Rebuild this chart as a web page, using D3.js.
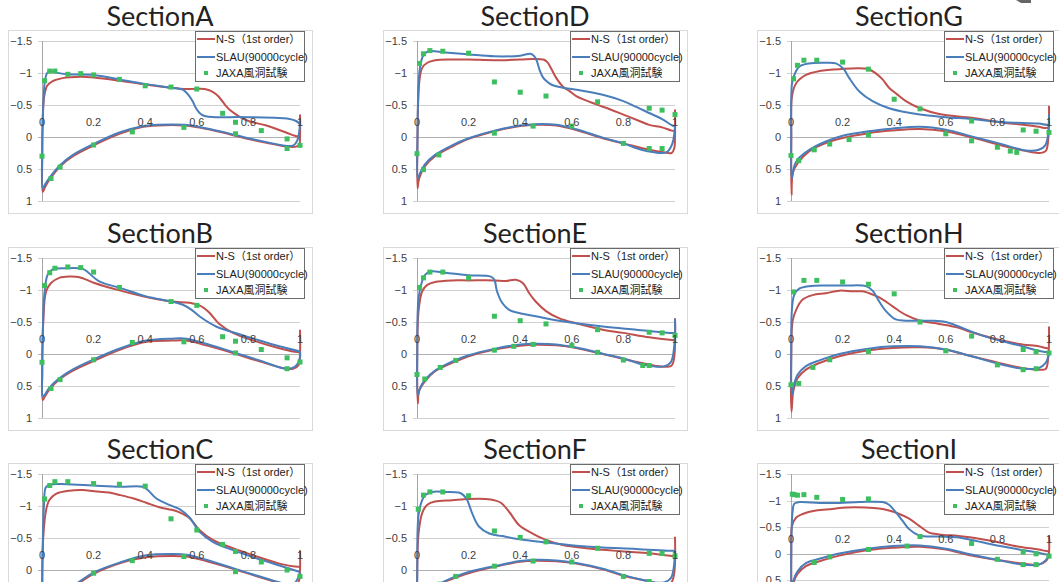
<!DOCTYPE html>
<html>
<head>
<meta charset="utf-8">
<script src="https://cdn.jsdelivr.net/npm/d3@7"></script>
<style>
  html, body { margin: 0; padding: 0; background: #fff; overflow: hidden; }
  svg { display: block; }
</style>
</head>
<body>
<svg id="chart" width="1059" height="582"></svg>
<script>
// ---- chart data: chordwise position x/c and pressure coefficient Cp ----
const sectionNames = ["A", "B", "C", "D", "E", "F", "G", "H", "I"];
const xTicks = [0, 0.2, 0.4, 0.6, 0.8, 1];
const yTicks = [-1.5, -1, -0.5, 0, 0.5, 1];
const seriesNames = ["N-S\uFF081st order\uFF09", "SLAU(90000cycle)", "JAXA風洞試験"];

// Each CFD curve runs from the trailing edge along the upper surface to the
// leading edge, then back along the lower surface to the trailing edge.
const nsA = [[1.0,-0.02],[0.99,-0.01],[0.946,-0.07],[0.87,-0.18],[0.8,-0.25],[0.765,-0.32],[0.726,-0.43],[0.71,-0.5],[0.685,-0.63],[0.66,-0.71],[0.63,-0.75],[0.58,-0.75],[0.55,-0.75],[0.5,-0.77],[0.4,-0.82],[0.3,-0.88],[0.2,-0.93],[0.15,-0.94],[0.08,-0.92],[0.04,-0.87],[0.02,-0.8],[0.008,-0.62],[0.003,-0.3],[0.001,0.3],[0.003,0.86],[0.012,0.78],[0.03,0.66],[0.07,0.46],[0.12,0.3],[0.2,0.13],[0.3,-0.05],[0.38,-0.15],[0.45,-0.18],[0.55,-0.18],[0.62,-0.14],[0.7,-0.07],[0.8,0.03],[0.87,0.09],[0.95,0.15],[0.985,0.15],[0.997,0.12],[1.0,0.0],[1.0,-0.35]];
const slauA = [[1.0,-0.2],[0.985,-0.25],[0.95,-0.29],[0.9,-0.3],[0.8,-0.31],[0.7,-0.31],[0.674,-0.31],[0.64,-0.32],[0.623,-0.34],[0.61,-0.38],[0.597,-0.45],[0.585,-0.55],[0.571,-0.64],[0.555,-0.71],[0.545,-0.74],[0.5,-0.77],[0.4,-0.83],[0.3,-0.9],[0.2,-0.97],[0.1,-0.98],[0.05,-1.01],[0.03,-1.03],[0.02,-1.0],[0.012,-0.9],[0.005,-0.5],[0.001,0.2],[0.003,0.8],[0.012,0.74],[0.03,0.63],[0.07,0.44],[0.12,0.28],[0.2,0.11],[0.3,-0.07],[0.38,-0.16],[0.45,-0.19],[0.55,-0.19],[0.62,-0.15],[0.7,-0.08],[0.8,0.02],[0.87,0.08],[0.95,0.14],[0.975,0.13],[0.99,0.05],[1.0,-0.2]];
const jaxaA = [[0,0.3],[0.01,-0.88],[0.03,-1.03],[0.05,-1.03],[0.1,-0.98],[0.15,-0.99],[0.2,-0.97],[0.3,-0.9],[0.4,-0.8],[0.5,-0.78],[0.6,-0.75],[0.7,-0.37],[0.75,-0.23],[0.85,-0.1],[0.95,0.03],[1.0,0.13],[0.035,0.65],[0.07,0.47],[0.2,0.125],[0.35,-0.08],[0.55,-0.15],[0.75,-0.05],[0.95,0.18]];

const nsB = [[1.0,-0.03],[0.99,-0.03],[0.92,-0.09],[0.82,-0.21],[0.74,-0.33],[0.69,-0.46],[0.65,-0.64],[0.63,-0.71],[0.61,-0.76],[0.572,-0.8],[0.503,-0.82],[0.404,-0.89],[0.304,-0.99],[0.203,-1.11],[0.145,-1.2],[0.106,-1.21],[0.067,-1.19],[0.035,-1.11],[0.016,-0.98],[0.005,-0.51],[0.001,0.2],[0.003,0.72],[0.009,0.68],[0.028,0.56],[0.067,0.4],[0.12,0.26],[0.197,0.115],[0.304,-0.07],[0.404,-0.19],[0.503,-0.21],[0.56,-0.21],[0.636,-0.135],[0.74,-0.015],[0.843,0.115],[0.947,0.23],[0.973,0.23],[0.995,0.17],[1.0,0.0],[1.0,-0.38]];
const slauB = [[1.0,-0.04],[0.92,-0.12],[0.82,-0.24],[0.74,-0.34],[0.675,-0.43],[0.61,-0.59],[0.58,-0.69],[0.546,-0.77],[0.503,-0.82],[0.404,-0.9],[0.304,-1.03],[0.22,-1.14],[0.18,-1.27],[0.158,-1.33],[0.093,-1.34],[0.041,-1.32],[0.022,-1.24],[0.009,-0.93],[0.003,-0.3],[0.001,0.3],[0.003,0.66],[0.01,0.64],[0.028,0.53],[0.067,0.38],[0.12,0.24],[0.197,0.09],[0.304,-0.09],[0.404,-0.21],[0.503,-0.24],[0.56,-0.24],[0.636,-0.16],[0.74,-0.03],[0.843,0.1],[0.947,0.23],[0.98,0.2],[1.0,0.06],[1.0,-0.04]];
const jaxaB = [[0,0.13],[0.01,-1.07],[0.03,-1.27],[0.05,-1.34],[0.1,-1.36],[0.15,-1.35],[0.2,-1.28],[0.3,-1.04],[0.5,-0.82],[0.6,-0.76],[0.7,-0.27],[0.75,-0.2],[0.85,-0.07],[0.95,0.06],[1.0,0.125],[0.035,0.54],[0.07,0.4],[0.2,0.09],[0.35,-0.18],[0.55,-0.19],[0.75,-0.016],[0.95,0.23]];

const nsC = [[1.0,-0.05],[0.99,-0.05],[0.92,-0.1],[0.818,-0.23],[0.74,-0.34],[0.662,-0.47],[0.61,-0.625],[0.572,-0.81],[0.533,-0.9],[0.503,-0.94],[0.455,-0.98],[0.404,-1.05],[0.352,-1.12],[0.304,-1.17],[0.26,-1.21],[0.203,-1.23],[0.158,-1.25],[0.106,-1.24],[0.054,-1.19],[0.028,-1.09],[0.016,-0.94],[0.005,-0.52],[0.001,0.2],[0.003,0.75],[0.01,0.7],[0.03,0.57],[0.07,0.41],[0.12,0.27],[0.2,0.06],[0.304,-0.11],[0.404,-0.2],[0.503,-0.22],[0.56,-0.21],[0.636,-0.14],[0.74,-0.02],[0.818,0.08],[0.9,0.18],[0.95,0.24],[0.98,0.25],[0.995,0.18],[1.0,0.0],[1.0,-0.31]];
const slauC = [[1.0,0.03],[0.92,-0.07],[0.818,-0.2],[0.74,-0.31],[0.662,-0.44],[0.61,-0.6],[0.572,-0.82],[0.533,-0.95],[0.48,-1.04],[0.442,-1.12],[0.41,-1.25],[0.39,-1.3],[0.304,-1.3],[0.197,-1.32],[0.093,-1.34],[0.041,-1.34],[0.016,-1.3],[0.008,-1.04],[0.003,-0.4],[0.001,0.3],[0.003,0.66],[0.01,0.63],[0.03,0.53],[0.07,0.38],[0.12,0.25],[0.2,0.04],[0.304,-0.12],[0.404,-0.23],[0.503,-0.25],[0.56,-0.24],[0.636,-0.16],[0.74,-0.03],[0.818,0.07],[0.9,0.17],[0.95,0.22],[0.98,0.2],[1.0,0.03]];
const jaxaC = [[0,0.35],[0.01,-1.11],[0.03,-1.32],[0.05,-1.38],[0.1,-1.38],[0.2,-1.35],[0.3,-1.34],[0.4,-1.31],[0.5,-0.8],[0.6,-0.625],[0.7,-0.4],[0.75,-0.29],[0.85,-0.125],[0.95,0.0],[1.0,0.1],[0.035,0.55],[0.07,0.42],[0.2,0.05],[0.35,-0.146],[0.55,-0.21],[0.75,0.026],[0.95,0.24]];

const nsD = [[1.0,-0.09],[0.987,-0.1],[0.95,-0.15],[0.9,-0.19],[0.85,-0.27],[0.8,-0.35],[0.75,-0.43],[0.695,-0.51],[0.65,-0.58],[0.617,-0.64],[0.59,-0.72],[0.565,-0.79],[0.54,-0.92],[0.52,-1.07],[0.505,-1.17],[0.49,-1.21],[0.45,-1.22],[0.4,-1.21],[0.3,-1.2],[0.2,-1.21],[0.14,-1.21],[0.07,-1.2],[0.04,-1.16],[0.02,-1.08],[0.01,-0.9],[0.005,-0.6],[0.002,0.0],[0.002,0.8],[0.008,0.65],[0.03,0.46],[0.07,0.3],[0.136,0.15],[0.2,0.03],[0.3,-0.09],[0.4,-0.17],[0.46,-0.19],[0.54,-0.18],[0.617,-0.11],[0.72,0.02],[0.8,0.1],[0.9,0.2],[0.955,0.24],[0.987,0.25],[0.997,0.18],[1.0,0.0],[1.0,-0.43]];
const slauD = [[1.0,-0.17],[0.99,-0.18],[0.95,-0.28],[0.9,-0.375],[0.85,-0.47],[0.8,-0.56],[0.72,-0.66],[0.617,-0.74],[0.565,-0.77],[0.52,-0.82],[0.5,-0.88],[0.487,-0.94],[0.475,-1.05],[0.465,-1.18],[0.455,-1.26],[0.44,-1.3],[0.4,-1.27],[0.3,-1.26],[0.2,-1.29],[0.11,-1.32],[0.045,-1.34],[0.025,-1.28],[0.012,-1.1],[0.006,-0.8],[0.002,0.0],[0.003,0.65],[0.01,0.58],[0.03,0.43],[0.07,0.28],[0.136,0.13],[0.2,0.02],[0.3,-0.1],[0.4,-0.18],[0.46,-0.2],[0.54,-0.19],[0.617,-0.12],[0.72,0.01],[0.8,0.1],[0.87,0.2],[0.92,0.24],[0.95,0.25],[0.97,0.23],[0.99,0.1],[1.0,-0.17]];
const jaxaD = [[0,0.26],[0.01,-1.15],[0.025,-1.3],[0.05,-1.35],[0.1,-1.34],[0.2,-1.31],[0.3,-0.86],[0.4,-0.7],[0.5,-0.64],[0.7,-0.55],[0.9,-0.45],[0.95,-0.42],[1.0,-0.35],[0.025,0.51],[0.085,0.28],[0.3,-0.06],[0.45,-0.17],[0.6,-0.17],[0.8,0.1],[0.9,0.18],[0.95,0.18]];

const nsE = [[1.0,-0.22],[0.987,-0.22],[0.9,-0.26],[0.8,-0.33],[0.72,-0.38],[0.617,-0.48],[0.55,-0.56],[0.5,-0.67],[0.46,-0.82],[0.435,-0.95],[0.41,-1.11],[0.383,-1.16],[0.344,-1.14],[0.3,-1.15],[0.2,-1.15],[0.136,-1.15],[0.07,-1.125],[0.04,-1.08],[0.02,-0.98],[0.006,-0.67],[0.001,0.0],[0.003,0.77],[0.008,0.58],[0.03,0.43],[0.07,0.27],[0.136,0.14],[0.2,0.036],[0.3,-0.07],[0.4,-0.13],[0.46,-0.146],[0.54,-0.135],[0.617,-0.094],[0.72,0.0],[0.8,0.078],[0.9,0.167],[0.955,0.2],[0.987,0.18],[0.997,0.05],[1.0,-0.56]];
const slauE = [[1.0,-0.33],[0.98,-0.33],[0.85,-0.38],[0.72,-0.43],[0.565,-0.51],[0.46,-0.59],[0.396,-0.64],[0.357,-0.69],[0.33,-0.8],[0.31,-0.98],[0.3,-1.16],[0.286,-1.21],[0.2,-1.23],[0.11,-1.27],[0.052,-1.29],[0.032,-1.24],[0.02,-1.14],[0.006,-0.875],[0.001,0.0],[0.003,0.65],[0.01,0.55],[0.03,0.41],[0.07,0.26],[0.136,0.12],[0.2,0.02],[0.3,-0.08],[0.4,-0.15],[0.46,-0.16],[0.54,-0.15],[0.617,-0.1],[0.72,-0.005],[0.8,0.07],[0.88,0.17],[0.93,0.2],[0.96,0.19],[0.985,0.12],[1.0,-0.3],[1.0,-0.55]];
const jaxaE = [[0,0.32],[0.01,-1.04],[0.025,-1.19],[0.05,-1.28],[0.1,-1.28],[0.2,-1.19],[0.3,-0.59],[0.4,-0.52],[0.5,-0.47],[0.7,-0.38],[0.9,-0.34],[0.95,-0.33],[1.0,-0.29],[0.03,0.39],[0.09,0.21],[0.15,0.1],[0.3,-0.06],[0.375,-0.12],[0.45,-0.15],[0.6,-0.135],[0.7,-0.026],[0.8,0.094],[0.875,0.18],[0.9,0.18]];

const nsF = [[1.0,-0.22],[0.987,-0.22],[0.9,-0.26],[0.8,-0.29],[0.656,-0.34],[0.565,-0.39],[0.5,-0.47],[0.448,-0.57],[0.396,-0.7],[0.357,-0.91],[0.325,-1.05],[0.3,-1.09],[0.266,-1.11],[0.2,-1.11],[0.136,-1.09],[0.07,-1.07],[0.04,-1.02],[0.02,-0.89],[0.006,-0.57],[0.001,0.0],[0.003,0.75],[0.01,0.6],[0.03,0.45],[0.07,0.3],[0.1,0.2],[0.15,0.12],[0.2,0.05],[0.3,-0.05],[0.4,-0.13],[0.46,-0.146],[0.54,-0.135],[0.617,-0.1],[0.72,-0.01],[0.8,0.09],[0.88,0.16],[0.95,0.22],[0.985,0.2],[0.997,0.05],[1.0,-0.52]];
const slauF = [[1.0,-0.3],[0.98,-0.3],[0.85,-0.33],[0.72,-0.35],[0.617,-0.38],[0.5,-0.43],[0.396,-0.48],[0.33,-0.53],[0.28,-0.57],[0.24,-0.68],[0.214,-0.885],[0.195,-1.09],[0.18,-1.17],[0.162,-1.21],[0.11,-1.22],[0.058,-1.22],[0.032,-1.17],[0.02,-1.09],[0.006,-0.86],[0.001,0.0],[0.003,0.65],[0.01,0.55],[0.03,0.42],[0.07,0.28],[0.1,0.19],[0.15,0.1],[0.2,0.03],[0.3,-0.06],[0.4,-0.14],[0.46,-0.16],[0.54,-0.15],[0.617,-0.11],[0.72,-0.02],[0.8,0.08],[0.88,0.16],[0.93,0.2],[0.96,0.19],[0.985,0.12],[1.0,-0.3]];
const jaxaF = [[0,0.3],[0.005,-0.95],[0.025,-1.17],[0.05,-1.22],[0.1,-1.22],[0.2,-1.16],[0.3,-0.61],[0.4,-0.51],[0.5,-0.44],[0.7,-0.34],[0.9,-0.26],[0.95,-0.26],[1.0,-0.22],[0.03,0.4],[0.09,0.22],[0.15,0.1],[0.3,-0.06],[0.45,-0.14],[0.6,-0.125],[0.8,0.1],[0.9,0.18]];

const nsG = [[1.0,-0.15],[0.987,-0.14],[0.96,-0.16],[0.9,-0.19],[0.83,-0.22],[0.7,-0.3],[0.574,-0.36],[0.5,-0.45],[0.445,-0.56],[0.41,-0.67],[0.38,-0.77],[0.355,-0.9],[0.33,-0.99],[0.3,-1.06],[0.187,-1.06],[0.11,-1.03],[0.058,-0.97],[0.02,-0.84],[0.004,-0.64],[0.001,0.0],[0.002,0.9],[0.007,0.56],[0.026,0.41],[0.071,0.22],[0.135,0.094],[0.2,0.016],[0.3,-0.06],[0.39,-0.1],[0.5,-0.125],[0.6,-0.09],[0.7,0.005],[0.806,0.12],[0.9,0.21],[0.96,0.25],[0.987,0.22],[0.997,0.04],[1.0,-0.49]];
const slauG = [[1.0,-0.2],[0.99,-0.19],[0.96,-0.21],[0.83,-0.23],[0.7,-0.28],[0.6,-0.31],[0.5,-0.35],[0.38,-0.45],[0.316,-0.56],[0.265,-0.71],[0.226,-0.92],[0.21,-1.03],[0.2,-1.08],[0.174,-1.15],[0.135,-1.16],[0.07,-1.15],[0.032,-1.1],[0.013,-0.97],[0.004,-0.84],[0.001,0.0],[0.003,0.65],[0.013,0.45],[0.026,0.35],[0.071,0.2],[0.135,0.07],[0.2,-0.02],[0.3,-0.09],[0.39,-0.13],[0.5,-0.16],[0.6,-0.115],[0.7,-0.01],[0.806,0.1],[0.91,0.21],[0.96,0.2],[0.987,0.12],[1.0,-0.35]];
const jaxaG = [[0,0.29],[0.01,-0.91],[0.025,-1.12],[0.05,-1.2],[0.1,-1.2],[0.2,-1.17],[0.3,-1.06],[0.4,-0.59],[0.5,-0.44],[0.7,-0.25],[0.9,-0.11],[0.95,-0.09],[1.0,-0.07],[0.03,0.37],[0.09,0.2],[0.15,0.11],[0.225,0.04],[0.3,-0.03],[0.6,-0.05],[0.7,0.06],[0.8,0.16],[0.85,0.22],[0.875,0.24]];

const nsH = [[1.0,-0.09],[0.987,-0.094],[0.96,-0.12],[0.884,-0.156],[0.78,-0.25],[0.7,-0.34],[0.65,-0.41],[0.574,-0.47],[0.5,-0.52],[0.445,-0.61],[0.394,-0.745],[0.342,-0.885],[0.303,-0.95],[0.277,-0.98],[0.24,-0.98],[0.187,-0.99],[0.135,-0.95],[0.084,-0.92],[0.045,-0.85],[0.02,-0.69],[0.006,-0.51],[0.001,0.0],[0.002,0.9],[0.009,0.58],[0.026,0.375],[0.058,0.245],[0.11,0.14],[0.187,0.036],[0.3,-0.057],[0.394,-0.094],[0.5,-0.104],[0.6,-0.068],[0.7,0.036],[0.806,0.14],[0.897,0.22],[0.96,0.245],[0.987,0.234],[0.997,0.06],[1.0,-0.43]];
const slauH = [[1.0,-0.02],[0.99,-0.03],[0.96,-0.05],[0.884,-0.135],[0.78,-0.24],[0.7,-0.35],[0.65,-0.43],[0.6,-0.5],[0.548,-0.52],[0.445,-0.52],[0.406,-0.54],[0.368,-0.67],[0.342,-0.82],[0.316,-0.99],[0.29,-1.06],[0.213,-1.07],[0.135,-1.07],[0.071,-1.06],[0.032,-1.02],[0.013,-0.93],[0.004,-0.72],[0.001,0.0],[0.003,0.64],[0.01,0.5],[0.026,0.32],[0.058,0.19],[0.11,0.1],[0.187,0.0],[0.3,-0.083],[0.394,-0.12],[0.5,-0.12],[0.6,-0.07],[0.7,0.036],[0.806,0.156],[0.897,0.23],[0.96,0.22],[0.987,0.14],[1.0,-0.02]];
const jaxaH = [[0,0.48],[0.01,-0.97],[0.05,-1.15],[0.1,-1.15],[0.2,-1.125],[0.3,-1.09],[0.4,-0.94],[0.5,-0.5],[0.7,-0.28],[0.9,-0.07],[0.95,-0.036],[1.0,-0.016],[0.03,0.46],[0.085,0.21],[0.15,0.09],[0.3,-0.04],[0.6,-0.05],[0.8,0.17],[0.9,0.245],[0.95,0.23]];

const nsI = [[1.0,-0.045],[0.99,-0.045],[0.96,-0.076],[0.884,-0.127],[0.78,-0.235],[0.7,-0.3],[0.65,-0.33],[0.574,-0.36],[0.535,-0.395],[0.497,-0.52],[0.458,-0.66],[0.42,-0.745],[0.38,-0.81],[0.342,-0.85],[0.29,-0.87],[0.213,-0.87],[0.16,-0.84],[0.097,-0.81],[0.045,-0.745],[0.02,-0.68],[0.004,-0.52],[0.001,0.0],[0.003,0.8],[0.01,0.55],[0.026,0.38],[0.058,0.24],[0.11,0.146],[0.187,0.04],[0.3,-0.064],[0.394,-0.108],[0.5,-0.127],[0.6,-0.076],[0.7,0.04],[0.806,0.127],[0.9,0.19],[0.96,0.21],[0.987,0.146],[0.998,0.05],[1.0,-0.33]];
const slauI = [[1.0,0.02],[0.99,0.02],[0.96,-0.013],[0.884,-0.076],[0.78,-0.17],[0.7,-0.255],[0.65,-0.3],[0.574,-0.32],[0.497,-0.34],[0.458,-0.46],[0.432,-0.62],[0.406,-0.78],[0.38,-0.92],[0.355,-0.97],[0.265,-0.97],[0.187,-0.955],[0.11,-0.955],[0.032,-0.97],[0.013,-0.94],[0.006,-0.78],[0.001,0.0],[0.003,0.7],[0.01,0.5],[0.026,0.33],[0.058,0.18],[0.11,0.1],[0.187,0.0],[0.3,-0.09],[0.394,-0.14],[0.5,-0.153],[0.6,-0.09],[0.7,0.02],[0.806,0.127],[0.9,0.21],[0.96,0.21],[0.987,0.13],[1.0,0.02]];
const jaxaI = [[0.005,-1.12],[0.013,-1.11],[0.025,-1.1],[0.05,-1.11],[0.1,-1.06],[0.2,-1.02],[0.3,-1.03],[0.5,-0.32],[0.7,-0.19],[0.9,-0.03],[0.95,0.006],[1.0,0.05],[0.09,0.17],[0.15,0.064],[0.3,-0.076],[0.45,-0.14],[0.8,0.11],[0.9,0.21],[0.95,0.21]];

// ---- assemble panels ----
const curves = {
  A: [nsA, slauA, jaxaA], B: [nsB, slauB, jaxaB], C: [nsC, slauC, jaxaC],
  D: [nsD, slauD, jaxaD], E: [nsE, slauE, jaxaE], F: [nsF, slauF, jaxaF],
  G: [nsG, slauG, jaxaG], H: [nsH, slauH, jaxaH], I: [nsI, slauI, jaxaI]
};

const W = 1059, H = 582;
const colors = { ns: "#C0504D", slau: "#4A7EBB", jaxa: "#3DBE5F" };
const frameLefts = [8, 383, 757];
const frameTops = [30, 247, 463];
const FW = 304, FH = 183;

const svg = d3.select("#chart");
const labelFont = "'Liberation Sans', 'Noto Sans CJK JP', sans-serif";

sectionNames.forEach((name, i) => {
  const col = Math.floor(i / 3), row = i % 3;
  const fl = frameLefts[col], ft = frameTops[row];
  const g = svg.append("g");

  // chart frame
  g.append("rect").attr("x", fl + 0.5).attr("y", ft + 0.5)
    .attr("width", FW).attr("height", FH)
    .attr("fill", "#fff").attr("stroke", "#d9d9d9");

  // title
  g.append("text").attr("x", fl + FW / 2).attr("y", ft - 4)
    .attr("text-anchor", "middle")
    .attr("font-family", "Lato, 'Open Sans', sans-serif")
    .attr("font-size", 27).attr("fill", "#222")
    .text("Section" + name);

  const x0 = fl + 34;
  const yTop = ft + 11;
  const unit = name === "I" ? 53 : 64;
  const x = d3.scaleLinear().domain([0, 1]).range([x0, x0 + 258]);
  const y = d3.scaleLinear().domain([-1.5, 1]).range([yTop, yTop + 2.5 * unit]);

  // horizontal gridlines
  g.append("g").selectAll("line").data(yTicks).join("line")
    .attr("x1", x0 - 4).attr("x2", x0 + 258)
    .attr("y1", d => Math.round(y(d)) + 0.5).attr("y2", d => Math.round(y(d)) + 0.5)
    .attr("stroke", d => d === 0 ? "#b0b0b0" : "#d0d0d0").attr("stroke-width", 1);

  // vertical axis
  g.append("line").attr("x1", Math.round(x0) + 0.5).attr("x2", Math.round(x0) + 0.5)
    .attr("y1", y(-1.5)).attr("y2", y(1)).attr("stroke", "#a6a6a6");

  // y tick labels (only those that fall on the page)
  g.append("g").selectAll("text").data(yTicks.filter(d => y(d) < H)).join("text")
    .attr("x", x0 - 10).attr("y", d => y(d) + 4)
    .attr("text-anchor", "end")
    .attr("font-family", labelFont).attr("font-size", 11).attr("fill", "#404040")
    .text(d => d3.format("")(d));

  const [ns, slau, jaxa] = curves[name];
  const line = d3.line().x(d => x(d[0])).y(d => y(d[1]))
    .curve(d3.curveCatmullRom.alpha(0.5));

  g.append("path").datum(ns).attr("d", line)
    .attr("fill", "none").attr("stroke", colors.ns).attr("stroke-width", 2)
    .attr("stroke-linejoin", "round");
  g.append("path").datum(slau).attr("d", line)
    .attr("fill", "none").attr("stroke", colors.slau).attr("stroke-width", 2)
    .attr("stroke-linejoin", "round");

  g.append("g").selectAll("rect").data(jaxa).join("rect")
    .attr("x", d => x(d[0]) - 2.5).attr("y", d => y(d[1]) - 2.5)
    .attr("width", 5).attr("height", 5).attr("fill", colors.jaxa);

  // x tick labels, placed just above the zero line, drawn over the curves
  g.append("g").selectAll("text").data(xTicks).join("text")
    .attr("x", d => x(d)).attr("y", y(0) - 11)
    .attr("text-anchor", "middle")
    .attr("font-family", labelFont).attr("font-size", 11).attr("fill", "#404040")
    .text(d => d3.format("")(d));

  // legend
  const lx = fl + 187, ly = ft + 1;
  const lg = g.append("g");
  lg.append("rect").attr("x", lx + 0.5).attr("y", ly + 0.5)
    .attr("width", 109).attr("height", 50)
    .attr("fill", "#fff").attr("stroke", "#6b6b6b");
  const rowsY = [8, 26, 42];
  const rowColors = [colors.ns, colors.slau, colors.jaxa];
  seriesNames.forEach((s, k) => {
    const ry = ly + rowsY[k];
    if (k < 2) {
      lg.append("line").attr("x1", lx + 2).attr("x2", lx + 20)
        .attr("y1", ry).attr("y2", ry)
        .attr("stroke", rowColors[k]).attr("stroke-width", 2);
    } else {
      lg.append("rect").attr("x", lx + 9).attr("y", ry - 2)
        .attr("width", 4).attr("height", 4).attr("fill", rowColors[k]);
    }
    lg.append("text").attr("x", lx + 21).attr("y", ry + 4)
      .attr("font-family", labelFont).attr("font-size", 11).attr("fill", "#222")
      .text(s);
  });
});

// small dark mark at the top edge
svg.append("path").attr("d", "M1016,0 L1031,0 L1031,3 L1021,3 Z").attr("fill", "#666");
</script>
</body>
</html>
